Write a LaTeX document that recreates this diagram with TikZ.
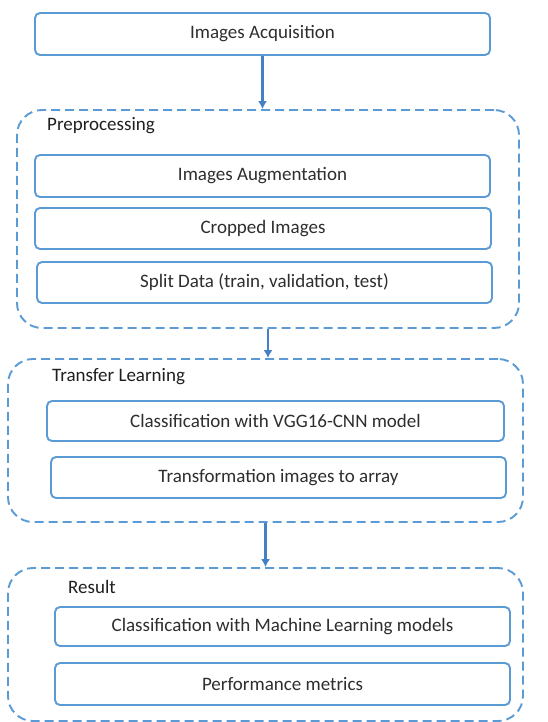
\documentclass[tikz,border=0pt]{standalone}
\usepackage{fontspec}
\setmainfont{Carlito}
\usetikzlibrary{arrows.meta}
\begin{document}
\begin{tikzpicture}[x=1pt,y=-1pt,
  every node/.style={font=\fontsize{19}{22}\selectfont, text=black!82},
  stepbox/.style={draw=bordblue, line width=1.9pt, rounded corners=5pt, inner sep=0pt, fill=white},
  groupbox/.style={draw=bordblue, line width=1.9pt, dash pattern=on 9pt off 5pt, rounded corners=25pt, inner sep=0pt},
  grouplabel/.style={anchor=west, inner sep=0pt, text=black!88},
  flow/.style={draw=arrblue, line width=2.4pt, -{Latex[length=8pt,width=9pt]}}]
\definecolor{bordblue}{RGB}{91,155,213}
\definecolor{arrblue}{RGB}{68,128,198}
\useasboundingbox (0,0) rectangle (547,722);
\fill[white] (0,0) rectangle (547,722);
% top
\node[stepbox, minimum width=455pt, minimum height=42pt] (acq) at (262.5,34) {Images Acquisition};
% preprocessing
\node[groupbox, minimum width=502pt, minimum height=218pt] (prep) at (268,219) {};
\node[grouplabel] (preplab) at (47,126) {Preprocessing};
\node[stepbox, minimum width=455pt, minimum height=42pt] (aug) at (262.5,176) {Images Augmentation};
\node[stepbox, minimum width=456pt, minimum height=41pt] (crop) at (263,228.5) {Cropped Images};
\node[stepbox, minimum width=455pt, minimum height=41pt] (split) at (264.5,282.5) {Split Data (train, validation, test)};
% transfer learning
\node[groupbox, minimum width=515pt, minimum height=163pt] (tl) at (265.5,440.5) {};
\node[grouplabel] (tllab) at (52,377) {Transfer Learning};
\node[stepbox, minimum width=457pt, minimum height=40pt] (vgg) at (275.5,421) {Classification with VGG16-CNN model};
\node[stepbox, minimum width=455pt, minimum height=41pt] (arr) at (278.5,477.5) {Transformation images to array};
% result
\node[groupbox, minimum width=515pt, minimum height=153pt] (res) at (265.5,644.5) {};
\node[grouplabel] (reslab) at (68,587) {Result};
\node[stepbox, minimum width=455pt, minimum height=39pt] (ml) at (282.5,626.5) {Classification with Machine Learning models};
\node[stepbox, minimum width=455pt, minimum height=42pt] (perf) at (282.5,684) {Performance metrics};
% arrows
\draw[flow] (acq.south) -- (acq.south |- prep.north);
\draw[flow] (prep.south) -- (prep.south |- tl.north);
\draw[flow] (tl.south) -- (tl.south |- res.north);
\end{tikzpicture}
\end{document}
